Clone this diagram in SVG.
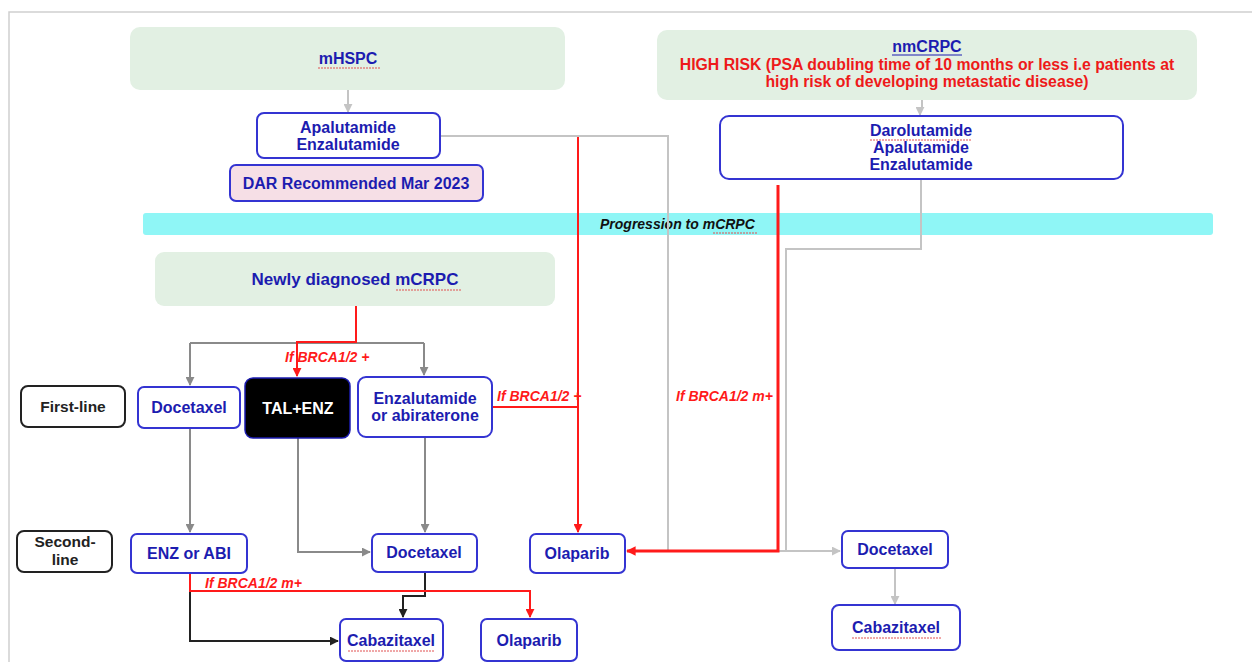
<svg xmlns="http://www.w3.org/2000/svg" width="1252" height="662" viewBox="0 0 1252 662">
<style>
.bg{fill:#ffffff}
.grn{fill:#e2f0e3}
.box{fill:#ffffff;stroke:#3434d2;stroke-width:2}
.pink{fill:#f6dfe6;stroke:#3434d2;stroke-width:2}
.blk{fill:#ffffff;stroke:#222;stroke-width:2}
.t{font-family:"Liberation Sans",Arial,sans-serif;font-weight:bold;font-size:16px;fill:#1c1cb0;text-anchor:middle}
.tr{font-family:"Liberation Sans",Arial,sans-serif;font-weight:bold;font-size:15.8px;fill:#ee1a1a;text-anchor:middle}
.tk{font-family:"Liberation Sans",Arial,sans-serif;font-weight:bold;font-size:15.5px;fill:#222;text-anchor:middle}
.lbl{font-family:"Liberation Sans",Arial,sans-serif;font-weight:bold;font-style:italic;font-size:14px;fill:#ff1a1a}
.prog{font-family:"Liberation Sans",Arial,sans-serif;font-weight:bold;font-style:italic;font-size:14px;fill:#111}
.wavy{fill:none;stroke:#e05050;stroke-width:1;stroke-dasharray:2 1}
.cg{fill:none;stroke:#8a8a8a;stroke-width:2}
.cl{fill:none;stroke:#c4c4c4;stroke-width:2}
.cr{fill:none;stroke:#ff1a1a;stroke-width:2}
.crt{fill:none;stroke:#ff1a1a;stroke-width:3}
.ck{fill:none;stroke:#222;stroke-width:2}
</style>
<defs>
<marker id="ag" viewBox="0 0 10 10" refX="9" refY="5" markerWidth="4.5" markerHeight="4.5" orient="auto"><path d="M0,0 L10,5 L0,10 z" fill="#8a8a8a"/></marker>
<marker id="al" viewBox="0 0 10 10" refX="9" refY="5" markerWidth="4.5" markerHeight="4.5" orient="auto"><path d="M0,0 L10,5 L0,10 z" fill="#c4c4c4"/></marker>
<marker id="ar" viewBox="0 0 10 10" refX="9" refY="5" markerWidth="4.5" markerHeight="4.5" orient="auto"><path d="M0,0 L10,5 L0,10 z" fill="#ff1a1a"/></marker>
<marker id="ar2" viewBox="0 0 10 10" refX="9" refY="5" markerWidth="3.2" markerHeight="3.2" orient="auto"><path d="M0,0 L10,5 L0,10 z" fill="#ff1a1a"/></marker>
<marker id="ak" viewBox="0 0 10 10" refX="9" refY="5" markerWidth="4.5" markerHeight="4.5" orient="auto"><path d="M0,0 L10,5 L0,10 z" fill="#222"/></marker>
</defs>
<rect class="bg" x="0" y="0" width="1252" height="662"/>
<path d="M9,662 L9,12 L1252,12" fill="none" stroke="#cfcfcf" stroke-width="1.5"/>

<g id="band">
<rect x="143" y="213" width="1070" height="22" rx="3" fill="#8ff6f6"/>
<text class="prog" x="600" y="229">Progression to mCRPC</text>
<path class="wavy" d="M713,233 L757,233"/>
</g>

<g id="connectors">
<path class="cl" d="M348,90 L348,112" marker-end="url(#al)"/>
<path class="cl" d="M440,136 L668,136 L668,551 L786,551"/>
<path class="cl" d="M922,100 L922,107 L920,110 L920,115" marker-end="url(#al)"/>
<path class="cl" d="M921,179 L921,249 L786,249 L786,551 L840,551" marker-end="url(#al)"/>
<path class="cl" d="M895,568 L895,604" marker-end="url(#al)"/>
<path class="cr" d="M578,137 L578,532" marker-end="url(#ar)"/>
<path class="cr" d="M492,407 L578,407"/>
<path class="crt" d="M778,185 L778,551 L627,551" marker-end="url(#ar2)"/>
<path class="cg" d="M190,343 L424,343"/>
<path class="cg" d="M190,343 L190,385" marker-end="url(#ag)"/>
<path class="cg" d="M424,343 L424,375" marker-end="url(#ag)"/>
<path class="cr" d="M356,306 L356,342 L297,342 L297,376" marker-end="url(#ar)"/>
<path class="cg" d="M190,428 L190,532" marker-end="url(#ag)"/>
<path class="cg" d="M298,438 L298,552 L370,552" marker-end="url(#ag)"/>
<path class="cg" d="M425,437 L425,532" marker-end="url(#ag)"/>
<path class="ck" d="M425,571 L425,596 L403,596 L403,617" marker-end="url(#ak)"/>
<path class="ck" d="M190,591 L190,641 L338,641" marker-end="url(#ak)"/>
<path class="cr" d="M190,573 L190,591 L530,591 L530,617" marker-end="url(#ar)"/>
<text class="lbl" x="285" y="362">If  BRCA1/2 +</text>
<text class="lbl" x="497" y="401">If BRCA1/2 +</text>
<text class="lbl" x="676" y="401">If BRCA1/2 m+</text>
<text class="lbl" x="205" y="588">If BRCA1/2 m+</text>
</g>

<g id="mHSPC">
<rect class="grn" x="130" y="27" width="435" height="63" rx="10"/>
<text class="t" x="348" y="64">mHSPC</text>
<path class="wavy" d="M318,68 L380,68"/>
</g>
<g id="apa-enza">
<rect class="box" x="257" y="113" width="183" height="45" rx="7"/>
<text class="t" x="348" y="133">Apalutamide</text>
<text class="t" x="348" y="150">Enzalutamide</text>
</g>
<g id="dar">
<rect class="pink" x="230" y="165" width="253" height="36" rx="6"/>
<text class="t" x="356" y="189">DAR Recommended Mar 2023</text>
</g>

<g id="nmCRPC">
<rect class="grn" x="657" y="30" width="540" height="70" rx="10"/>
<text class="t" x="927" y="52">nmCRPC</text>
<path d="M892,55 L962,55" stroke="#1c1cb0" stroke-width="1" fill="none"/>
<text class="tr" x="927" y="70">HIGH RISK (PSA doubling time of 10 months or less i.e patients at</text>
<text class="tr" x="927" y="87">high risk of developing metastatic disease)</text>
</g>
<g id="daro">
<rect class="box" x="720" y="116" width="403" height="63" rx="9"/>
<text class="t" x="921" y="136">Darolutamide</text>
<path class="wavy" d="M870,140 L972,140"/>
<text class="t" x="921" y="153">Apalutamide</text>
<text class="t" x="921" y="170">Enzalutamide</text>
</g>

<g id="newly">
<rect class="grn" x="155" y="252" width="400" height="54" rx="9"/>
<text class="t" x="355" y="285" style="font-size:17px">Newly diagnosed mCRPC</text>
<path class="wavy" d="M396,290 L461,290"/>
</g>

<g id="first-line">
<rect class="blk" x="21" y="386" width="104" height="41" rx="7"/>
<text class="tk" x="73" y="412">First-line</text>
</g>
<g id="docetaxel1">
<rect class="box" x="138" y="387" width="102" height="41" rx="6"/>
<text class="t" x="189" y="413">Docetaxel</text>
</g>
<g id="tal-enz">
<rect x="245" y="378" width="105" height="60" rx="8" fill="#000" stroke="#1c1cb0" stroke-width="1.5"/>
<text class="t" x="298" y="414" style="fill:#fff">TAL+ENZ</text>
</g>
<g id="enza-abi">
<rect class="box" x="358" y="377" width="134" height="60" rx="8"/>
<text class="t" x="425" y="404">Enzalutamide</text>
<text class="t" x="425" y="421">or abiraterone</text>
</g>

<g id="second-line">
<rect class="blk" x="17" y="531" width="95" height="41" rx="7"/>
<text class="tk" x="65" y="547">Second-</text>
<text class="tk" x="65" y="565">line</text>
</g>
<g id="enz-abi">
<rect class="box" x="131" y="534" width="116" height="39" rx="6"/>
<text class="t" x="189" y="559">ENZ or ABI</text>
</g>
<g id="docetaxel2">
<rect class="box" x="372" y="534" width="105" height="38" rx="6"/>
<text class="t" x="424" y="558">Docetaxel</text>
</g>
<g id="olaparib1">
<rect class="box" x="530" y="534" width="95" height="39" rx="6"/>
<text class="t" x="577" y="559">Olaparib</text>
</g>
<g id="docetaxel3">
<rect class="box" x="842" y="531" width="106" height="37" rx="6"/>
<text class="t" x="895" y="555">Docetaxel</text>
</g>
<g id="cabazitaxel3">
<rect class="box" x="832" y="605" width="128" height="45" rx="7"/>
<text class="t" x="896" y="633">Cabazitaxel</text>
<path class="wavy" d="M852,638 L941,638"/>
</g>
<g id="cabazitaxel2">
<rect class="box" x="340" y="619" width="103" height="42" rx="6"/>
<text class="t" x="391" y="646">Cabazitaxel</text>
<path class="wavy" d="M348,651 L435,651"/>
</g>
<g id="olaparib2">
<rect class="box" x="481" y="619" width="96" height="42" rx="6"/>
<text class="t" x="529" y="646">Olaparib</text>
</g>
</svg>
